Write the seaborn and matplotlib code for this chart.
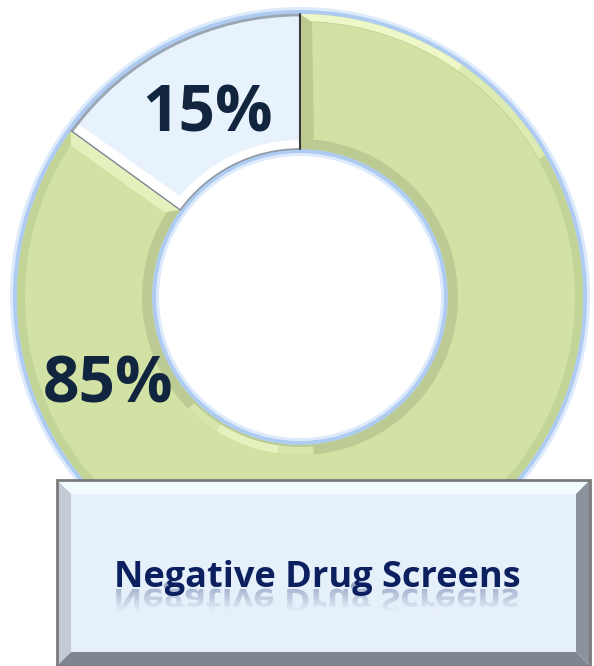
import numpy as np
import matplotlib
matplotlib.use("Agg")
import matplotlib.pyplot as plt
from matplotlib.patches import Wedge, Polygon, PathPatch, Rectangle, Arc
from matplotlib.textpath import TextPath
from matplotlib.font_manager import FontProperties
from matplotlib.transforms import Affine2D
import seaborn as sns

sns.set_theme(style="white")
plt.rcParams["font.family"] = ["Open Sans", "DejaVu Sans"]

# --- dados ---
categories = ["Positive", "Negative"]
shares = [15, 85]
pct_labels = ["15%", "85%"]
title = "Negative Drug Screens"
slice_colors = ["#e8f2fc", "#d1e2a4"]

W, H = 594, 666
fig = plt.figure(figsize=(5.94, 6.66), dpi=100)
ax = fig.add_axes([0, 0, 1, 1])


def py(y):
    # pixel y (top-down) -> data y
    return H - y


def pt(r, a):
    t = np.deg2rad(a)
    return (cx + r * np.cos(t), cy + r * np.sin(t))


cx, cy = 300, py(297)
r_out, r_in = 283, 148
ring = r_out - r_in

# glow azul em volta do anel
for extra, col in [(7, "#dceafb"), (4, "#aecbf2")]:
    ax.pie([100], radius=r_out + extra, center=(cx, cy), colors=[col],
           startangle=90, wedgeprops=dict(width=ring + 2 * extra, linewidth=0))

wedges, _ = ax.pie(shares, radius=r_out, center=(cx, cy), colors=slice_colors,
                   startangle=90, counterclock=True,
                   wedgeprops=dict(width=ring, linewidth=0))

# bevel da fatia verde
g = wedges[1]
t1, t2 = g.theta1, g.theta2
ax.add_patch(Wedge((cx, cy), r_out, t1, t2, width=8, color="#c3d497", lw=0))
ax.add_patch(Wedge((cx, cy), r_in + 10, t1, t2, width=10, color="#bccb93", lw=0))
for a0, a1, col in [(30, 55, "#dcebb2"), (55, 90, "#eef7c8")]:
    ax.add_patch(Wedge((cx, cy), r_out, a0, a1, width=7, color=col, lw=0))
for a0, a1, col in [(225, 238, "#d7e6ab"), (238, 262, "#e6f2bd"), (262, 275, "#d7e6ab")]:
    ax.add_patch(Wedge((cx, cy), r_in + 10, a0, a1, width=8, color=col, lw=0))
# bordas radiais da fatia verde
p1, p2 = pt(r_in, t1), pt(r_out, t1)
q1, q2 = pt(r_in + 12, t1 + 4), pt(r_out - 8, t1 + 2.5)
ax.add_patch(Polygon([p1, p2, q2, q1], color="#e4f1bd", lw=0))
p1, p2 = pt(r_in, t2), pt(r_out, t2)
q1, q2 = pt(r_in + 12, t2 - 5), pt(r_out - 8, t2 - 2.5)
ax.add_patch(Polygon([p1, p2, q2, q1], color="#bccb8f", lw=0))

# bevel da fatia azul clara
b = wedges[0]
ax.add_patch(Wedge((cx, cy), r_in + 9, b.theta1, b.theta2, width=9, color="white", lw=0))
p1, p2 = pt(r_in, b.theta2), pt(r_out, b.theta2)
q1, q2 = pt(r_in + 9, b.theta2 - 4), pt(r_out - 4, b.theta2 - 2)
ax.add_patch(Polygon([p1, p2, q2, q1], color="white", lw=0))
ax.add_patch(Arc((cx, cy), 2 * r_out - 2, 2 * r_out - 2, theta1=b.theta1, theta2=b.theta2,
                 color="#9aa6b4", lw=2))
ax.add_patch(Arc((cx, cy), 2 * r_in, 2 * r_in, theta1=b.theta1, theta2=b.theta2,
                 color="#8f98a3", lw=1.2))
x0, y0 = pt(r_in, b.theta1)
x1, y1 = pt(r_out, b.theta1)
ax.plot([x0, x1], [y0, y1], color="#3a3a3a", lw=1.5)
x0, y0 = pt(r_in, b.theta2)
x1, y1 = pt(r_out, b.theta2)
ax.plot([x0, x1], [y0, y1], color="#7d8590", lw=1)

# rótulos de percentual
label_pos = [(208, 115), (108, 386)]
for txt, (lx, ly) in zip(pct_labels, label_pos):
    ax.text(lx, py(ly), txt, ha="center", va="center", fontsize=46,
            fontweight="bold", color="#12253f", zorder=5)

# caixa do título com bevel
L, T, R, B = 57, 480, 590, 666
bw = 14
z = 6
ax.add_patch(Polygon([(L, py(T)), (R, py(T)), (R - bw, py(T + bw)), (L + bw, py(T + bw))],
                     color="#f2fbfd", lw=0, zorder=z))
ax.add_patch(Polygon([(L, py(T)), (L + bw, py(T + bw)), (L + bw, py(B - bw)), (L, py(B))],
                     color="#c2cad6", lw=0, zorder=z))
ax.add_patch(Polygon([(R, py(T)), (R - bw, py(T + bw)), (R - bw, py(B - bw)), (R, py(B))],
                     color="#8b929b", lw=0, zorder=z))
ax.add_patch(Polygon([(L, py(B)), (L + bw, py(B - bw)), (R - bw, py(B - bw)), (R, py(B))],
                     color="#7f868f", lw=0, zorder=z))
ax.add_patch(Rectangle((L + bw, py(B - bw)), R - L - 2 * bw, (B - T) - 2 * bw,
                       color="#e6f0fb", lw=0, zorder=z))
ax.add_patch(Rectangle((L, py(B)), R - L, B - T, fill=False, edgecolor="#7a7a7a",
                       lw=2, zorder=z + 0.5))

# título + reflexo
title_pt = 26
tx, base = 317, 587
fp = FontProperties(family="Open Sans", weight="bold")
tp = TextPath((0, 0), title, size=title_pt * 100 / 72, prop=fp)
ext = tp.get_extents()
tw = ext.x1 - ext.x0
tr = Affine2D().translate(-ext.x0 - tw / 2, 0).scale(1, -0.9).translate(tx, py(base) - 2)
ax.add_patch(PathPatch(tr.transform_path(tp), color="#0c1f5e", alpha=0.35, lw=0, zorder=z + 1))
grad = np.ones((40, 1, 4))
grad[..., 0:3] = matplotlib.colors.to_rgb("#e6f0fb")
grad[:, 0, 3] = np.clip(np.linspace(0.15, 1.4, 40), 0, 1)
ax.imshow(grad, extent=[tx - tw / 2 - 5, tx + tw / 2 + 5, py(base + 36), py(base)],
          aspect="auto", origin="upper", zorder=z + 2)
ax.text(tx, py(base), title, ha="center", va="baseline", fontsize=title_pt,
        fontweight="bold", color="#0c1f5e", family="Open Sans", zorder=z + 3)

ax.set_xlim(0, W)
ax.set_ylim(0, H)
ax.set_aspect("auto")
ax.axis("off")
fig.savefig("out.png", dpi=100, facecolor="white")
